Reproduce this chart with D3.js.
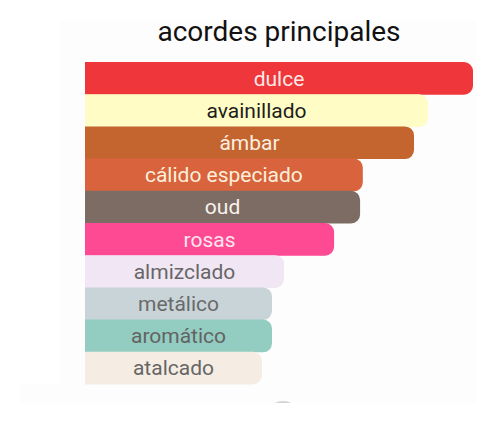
<!DOCTYPE html>
<html><head><meta charset="utf-8">
<script src="https://cdn.jsdelivr.net/npm/d3@7"></script>
<style>html,body{margin:0;padding:0;background:#fff;}svg{display:block;}</style>
</head><body>
<svg id="c" width="500" height="423"></svg>
<script>
const title = "acordes principales";
const categories = ["dulce","avainillado","ámbar","cálido especiado","oud","rosas","almizclado","metálico","aromático","atalcado"];
const values = [100, 88.4, 84.8, 71.6, 70.9, 64.2, 51.3, 48.2, 48.2, 45.6];
const barColors = ["#ee363b","#fffdc5","#c4652f","#d8633d","#7d6c63","#fd4a92","#f1e6f3","#c9d4d9","#93cdc1","#f5ede4"];
const textColors = ["#fde9e6","#1e1e1e","#fbeee2","#fdf0da","#f8f2ee","#fde6f0","#666666","#6a6a6a","#636363","#666666"];

const svg = d3.select("#c");
// faint background panel
svg.append("rect").attr("x",60).attr("y",20).attr("width",417).attr("height",383).attr("fill","#fdfdfd");
svg.append("rect").attr("x",20).attr("y",384).attr("width",457).attr("height",19).attr("fill","#fdfdfd");
svg.append("defs").append("clipPath").attr("id","clipb").append("rect").attr("x",0).attr("y",0).attr("width",500).attr("height",403);
svg.append("ellipse").attr("cx",283).attr("cy",408).attr("rx",12).attr("ry",7)
  .attr("fill","#d4d4d4").attr("clip-path","url(#clipb)");

const x = d3.scaleLinear().domain([0,100]).range([85,473]);
const y = d3.scaleBand().domain(categories).range([62,384]).padding(0);

svg.append("text").attr("x",279).attr("y",41).attr("text-anchor","middle")
  .attr("font-family","Roboto").attr("font-size",28).attr("fill","#111").text(title);

const r = 9;
function barPath(x0,x1,y0,h){
  const rr = Math.min(r,(x1-x0),h/2);
  return `M${x0},${y0}H${x1-rr}A${rr},${rr} 0 0 1 ${x1},${y0+rr}V${y0+h-rr}A${rr},${rr} 0 0 1 ${x1-rr},${y0+h}H${x0}Z`;
}
const g = svg.append("g");
categories.forEach((c,i)=>{
  g.append("path").attr("d",barPath(x(0),x(values[i]),y(c),y.bandwidth()+0.5)).attr("fill",barColors[i]);
});
categories.forEach((c,i)=>{
  g.append("text").attr("x",(x(0)+x(values[i]))/2).attr("y",y(c)+y.bandwidth()/2)
    .attr("dy","0.36em").attr("text-anchor","middle")
    .attr("font-family","Roboto").attr("font-size",21).attr("fill",textColors[i]).text(c);
});
</script>
</body></html>
